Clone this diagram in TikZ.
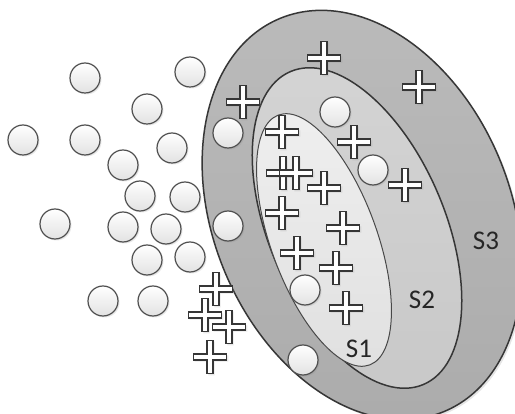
\documentclass[tikz,border=0pt]{standalone}
\usepackage{fontspec}
\setmainfont{Carlito}
\usetikzlibrary{shapes.geometric,shadows}
\definecolor{edge}{HTML}{363636}
\definecolor{innerline}{HTML}{484848}
\definecolor{ballline}{HTML}{505050}
\definecolor{ballbot}{HTML}{E2E2E2}
\definecolor{sthreetop}{HTML}{BBBBBB}
\definecolor{sthreebot}{HTML}{ABABAB}
\definecolor{stwotop}{HTML}{D4D4D4}
\definecolor{stwobot}{HTML}{C8C8C8}
\definecolor{sonetop}{HTML}{EFEFEF}
\definecolor{sonebot}{HTML}{E0E0E0}
\definecolor{labeltext}{HTML}{262626}
\begin{document}
\begin{tikzpicture}[x=1pt,y=-1pt,
  ring/.style={ellipse, inner sep=0pt, outer sep=0pt, draw=edge, line width=1.5pt},
  ball/.style={circle, inner sep=0pt, minimum size=30pt, draw=ballline, line width=1.2pt,
    top color=white, bottom color=ballbot,
    drop shadow={opacity=0.18, shadow xshift=1.5pt, shadow yshift=-1.5pt}},
  lbl/.style={inner sep=0pt, font=\fontsize{27}{30}\selectfont, text=labeltext},
  plusline/.style={fill=white, draw=edge, line width=1.3pt, line join=miter,
    drop shadow={opacity=0.18, shadow xshift=1.5pt, shadow yshift=-1.5pt}},
  pics/plusmark/.style={code={
    \draw[plusline] (-3.1,-16.8) -- (3.1,-16.8) -- (3.1,-3.1) -- (16.8,-3.1) -- (16.8,3.1)
      -- (3.1,3.1) -- (3.1,16.8) -- (-3.1,16.8) -- (-3.1,3.1) -- (-16.8,3.1)
      -- (-16.8,-3.1) -- (-3.1,-3.1) -- cycle;
  }}
]
\useasboundingbox (0,0) rectangle (515,414);
\fill[white] (0,0) rectangle (515,414);
\clip (0,0) rectangle (515,414);

% nested sets
\node[ring, minimum width=297pt, minimum height=426pt, rotate=22.8,
  top color=sthreetop, bottom color=sthreebot,
  drop shadow={opacity=0.2, shadow xshift=2pt, shadow yshift=-2pt}] (s3) at (362,215) {};
\node[ring, minimum width=176pt, minimum height=340pt, rotate=23,
  top color=stwotop, bottom color=stwobot] (s2) at (357,228) {};
\node[ring, draw=innerline, line width=1pt, minimum width=106pt, minimum height=266pt, rotate=20,
  top color=sonetop, bottom color=sonebot] (s1) at (324,240) {};

% labels
\node[lbl] (l3) at (486,241) {S3};
\node[lbl] (l2) at (422,300) {S2};
\node[lbl] (l1) at (359,349) {S1};

% crosses
\pic (x1) at (324,58) {plusmark};
\pic (x2) at (419,87) {plusmark};
\pic (x3) at (243,102) {plusmark};
\pic (x4) at (282,132) {plusmark};
\pic (x5) at (354,142) {plusmark};
\pic (x6) at (405,185) {plusmark};
\pic (x7) at (283,173) {plusmark};
\pic (x8) at (296,173) {plusmark};
\pic (x9) at (324,188) {plusmark};
\pic (x10) at (282,213) {plusmark};
\pic (x11) at (343,228) {plusmark};
\pic (x12) at (297,253) {plusmark};
\pic (x13) at (336,268) {plusmark};
\pic (x14) at (346,308) {plusmark};
\pic (x15) at (216,289) {plusmark};
\pic (x16) at (205,315) {plusmark};
\pic (x17) at (229,327) {plusmark};
\pic (x18) at (210,357) {plusmark};

% circles
\node[ball] (c1) at (85,78) {};
\node[ball] (c2) at (190,72) {};
\node[ball] (c3) at (147,109) {};
\node[ball] (c4) at (23,140) {};
\node[ball] (c5) at (85,140) {};
\node[ball] (c6) at (172,148) {};
\node[ball] (c7) at (123,165) {};
\node[ball] (c8) at (140,196) {};
\node[ball] (c9) at (185,197) {};
\node[ball] (c10) at (228,133) {};
\node[ball] (c11) at (55,224) {};
\node[ball] (c12) at (123,227) {};
\node[ball] (c13) at (166,229) {};
\node[ball] (c14) at (228,226) {};
\node[ball] (c15) at (147,260) {};
\node[ball] (c16) at (190,257) {};
\node[ball] (c17) at (103,301) {};
\node[ball] (c18) at (153,301) {};
\node[ball] (c19) at (335,112) {};
\node[ball] (c20) at (373,170) {};
\node[ball] (c21) at (305,290) {};
\node[ball] (c22) at (303,360) {};
\end{tikzpicture}
\end{document}
